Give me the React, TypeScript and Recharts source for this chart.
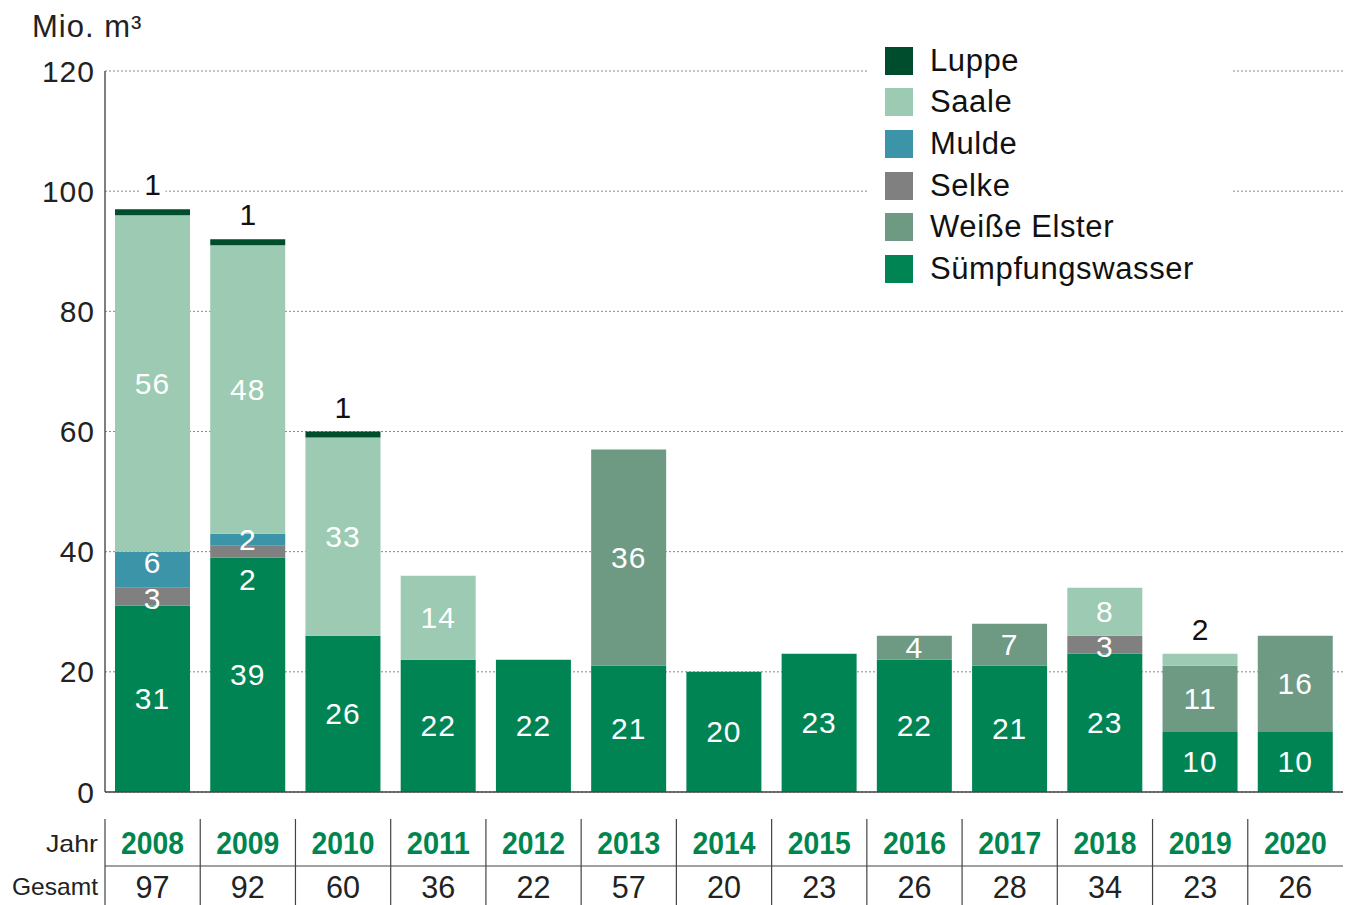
import React from "react"
import { BarChart, Bar, XAxis, YAxis, CartesianGrid, Legend, LabelList } from "recharts"

const years = ["2008", "2009", "2010", "2011", "2012", "2013", "2014", "2015", "2016", "2017", "2018", "2019", "2020"]
const suempfungswasser = [31, 39, 26, 22, 22, 21, 20, 23, 22, 21, 23, 10, 10]
const weisseElster = [0, 0, 0, 0, 0, 36, 0, 0, 4, 7, 0, 11, 16]
const selke = [3, 2, 0, 0, 0, 0, 0, 0, 0, 0, 3, 0, 0]
const mulde = [6, 2, 0, 0, 0, 0, 0, 0, 0, 0, 0, 0, 0]
const saale = [56, 48, 33, 14, 0, 0, 0, 0, 0, 0, 8, 2, 0]
const luppe = [1, 1, 1, 0, 0, 0, 0, 0, 0, 0, 0, 0, 0]
const totals = [97, 92, 60, 36, 22, 57, 20, 23, 26, 28, 34, 23, 26]
const yTicks = [0, 20, 40, 60, 80, 100, 120]

const series = [
  { key: "suempfung", name: "Sümpfungswasser", values: suempfungswasser, color: "#008454" },
  { key: "weisseElster", name: "Weiße Elster", values: weisseElster, color: "#6e9a84" },
  { key: "selke", name: "Selke", values: selke, color: "#808080" },
  { key: "mulde", name: "Mulde", values: mulde, color: "#3b94a8" },
  { key: "saale", name: "Saale", values: saale, color: "#9ccab2" },
  { key: "luppe", name: "Luppe", values: luppe, color: "#004d2e" },
]

const data = years.map((year, i) => {
  const row: Record<string, any> = { year }
  series.forEach((s) => {
    row[s.key] = s.values[i]
  })
  return row
})

const W = 1351
const H = 905
const margin = { top: 71, right: 8, bottom: 0, left: 45 }
const yAxisWidth = 60
const plotLeft = margin.left + yAxisWidth
const plotRight = W - margin.right
const band = (plotRight - plotLeft) / years.length

const FONT = '"Liberation Sans", Arial, sans-serif'
const GREEN_TEXT = "#00854f"

// labels that sit on top of the stack are black, everything else white inside the segment
const makeLabel = (key: string) => (props: any) => {
  const { x, y, width, height, value, index } = props
  if (!value) return null
  const cx = x + width / 2
  const onTop = key === "luppe" || (key === "saale" && value <= 2 && luppe[index] === 0)
  if (onTop) {
    return (
      <g>
        <rect x={cx - 13} y={y - 40} width={26} height={32} fill="#fff" />
        <text x={cx} y={y - 14} textAnchor="middle" fontSize={30} fontFamily={FONT} fill="#111">
          {value}
        </text>
      </g>
    )
  }
  let dy = 0
  if (key === "selke") dy = value < 3 ? 28 : 2
  if (key === "mulde" && value >= 4) dy = -7
  return (
    <text
      x={cx}
      y={y + height / 2 + dy}
      textAnchor="middle"
      dominantBaseline="central"
      fontSize={30}
      letterSpacing={1}
      fontFamily={FONT}
      fill="#fff"
    >
      {value}
    </text>
  )
}

const TableTick = (props: any) => {
  const { x, y, payload, index } = props
  const left = x - band / 2
  const total = String(totals[index])
  return (
    <g>
      <line x1={left} x2={left} y1={y + 27} y2={H} stroke="#444" strokeWidth={1.2} />
      {index === 0 && (
        <g>
          <line x1={left} x2={plotRight} y1={y + 74} y2={y + 74} stroke="#444" strokeWidth={1.2} />
          <text x={left - 7} y={y + 60} textAnchor="end" fontSize={24} fontFamily={FONT} fill="#222" textLength={52} lengthAdjust="spacingAndGlyphs">
            Jahr
          </text>
          <text x={left - 7} y={y + 103} textAnchor="end" fontSize={24} fontFamily={FONT} fill="#222" textLength={86} lengthAdjust="spacingAndGlyphs">
            Gesamt
          </text>
        </g>
      )}
      <text
        x={x}
        y={y + 62}
        textAnchor="middle"
        fontSize={31}
        fontWeight={700}
        fontFamily={FONT}
        fill={GREEN_TEXT}
        textLength={63}
        lengthAdjust="spacingAndGlyphs"
      >
        {payload.value}
      </text>
      <text
        x={x}
        y={y + 106}
        textAnchor="middle"
        fontSize={31}
        fontFamily={FONT}
        fill="#222"
        textLength={total.length * 17}
        lengthAdjust="spacingAndGlyphs"
      >
        {total}
      </text>
    </g>
  )
}

const LegendContent = () => {
  const items = [...series].reverse()
  return (
    <div style={{ paddingLeft: 17 }}>
      {items.map((item) => (
        <div key={item.key} style={{ display: "flex", alignItems: "center", height: 41.6 }}>
          <span style={{ width: 28, height: 28, background: item.color, marginRight: 17, display: "inline-block", flexShrink: 0 }} />
          <span style={{ fontSize: 31, letterSpacing: 0.6, fontFamily: FONT, color: "#111", whiteSpace: "nowrap" }}>{item.name}</span>
        </div>
      ))}
    </div>
  )
}

export default function App() {
  return (
    <div style={{ position: "absolute", left: 0, top: 0, width: W, height: H, background: "#fff" }}>
      <BarChart width={W} height={H} data={data} margin={margin} barSize={75}>
        <CartesianGrid vertical={false} strokeDasharray="2 2" stroke="#888" />
        <XAxis
          dataKey="year"
          height={H - 792}
          axisLine={{ stroke: "#444", strokeWidth: 1.5 }}
          tickLine={false}
          tickSize={0}
          tickMargin={0}
          interval={0}
          tick={<TableTick />}
        />
        <YAxis
          width={yAxisWidth}
          domain={[0, 120]}
          ticks={yTicks}
          interval={0}
          axisLine={{ stroke: "#555", strokeWidth: 1.5 }}
          tickLine={false}
          tickSize={0}
          tickMargin={10}
          tick={{ fontSize: 30, fill: "#222", fontFamily: FONT, letterSpacing: 1 }}
          label={{
            content: (p: any) => (
              <text x={p.viewBox.x - 13} y={p.viewBox.y - 34} fontSize={31} letterSpacing={1} fontFamily={FONT} fill="#222">
                Mio. m³
              </text>
            ),
          }}
        />
        <Legend
          layout="vertical"
          align="center"
          verticalAlign="middle"
          wrapperStyle={{ left: 868, top: 40, width: 364, height: 255, backgroundColor: "#fff" }}
          content={<LegendContent />}
        />
        {series.map((s) => (
          <Bar key={s.key} dataKey={s.key} name={s.name} stackId="a" fill={s.color} isAnimationActive={false}>
            <LabelList dataKey={s.key} content={makeLabel(s.key)} />
          </Bar>
        ))}
      </BarChart>
    </div>
  )
}
